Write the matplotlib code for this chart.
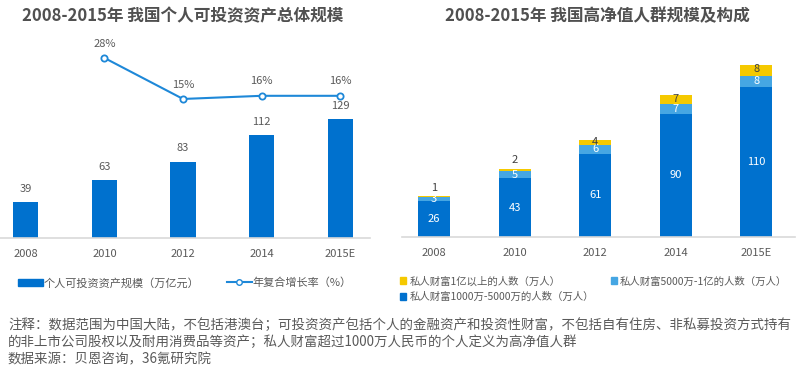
import matplotlib
matplotlib.use("Agg")
import matplotlib.pyplot as plt
from matplotlib.lines import Line2D
from matplotlib.patches import Patch

plt.rcParams['font.family'] = ['Noto Sans CJK SC', 'DejaVu Sans']

# 数据
years = ['2008', '2010', '2012', '2014', '2015E']
assets = [39, 63, 83, 112, 129]          # 个人可投资资产规模（万亿元）
growth = [None, 28, 15, 16, 16]          # 年复合增长率（%）
hnw_low = [26, 43, 61, 90, 110]          # 1000万-5000万
hnw_mid = [3, 5, 6, 7, 8]                # 5000万-1亿
hnw_top = [1, 2, 4, 7, 8]                # 1亿以上

BLUE = '#0071CE'
LBLUE = '#45A6E3'
YELLOW = '#F5C900'
LINE = '#1E88D8'
GRAY = '#595959'

W, H = 800, 377
fig = plt.figure(figsize=(W / 100, H / 100), dpi=100)


def px_axes(x0, y_top, x1, y_bot):
    return fig.add_axes([x0 / W, 1 - y_bot / H, (x1 - x0) / W, (y_bot - y_top) / H])


def clean(ax):
    for s in ['top', 'right', 'left']:
        ax.spines[s].set_visible(False)
    ax.spines['bottom'].set_color('#D9D9D9')
    ax.spines['bottom'].set_linewidth(1.2)
    ax.set_yticks([])
    ax.tick_params(axis='x', length=0, colors=GRAY, labelsize=8, pad=8)


# 左图
ax1 = px_axes(0, 40, 370, 238)
x = list(range(len(years)))
ax1.bar(x, assets, width=0.32, color=BLUE)
ax1.set_xlim(-0.33, 4.38)
ax1.set_ylim(0, 215)
ax1.set_xticks(x)
ax1.set_xticklabels(years)
clean(ax1)
for xi, v in zip(x, assets):
    ax1.text(xi, v + 9, str(v), ha='center', va='bottom', fontsize=8, color=GRAY)

ax1b = ax1.twinx()
gx = [xi for xi, g in zip(x, growth) if g is not None]
gy = [g for g in growth if g is not None]
ax1b.plot(gx, gy, color=LINE, lw=1.5, marker='o', ms=4.5, mfc='white', mec=LINE, mew=1.3)
ax1b.set_ylim(-29.1, 33.7)
ax1b.axis('off')
for xi, g in zip(gx, gy):
    ax1b.text(xi, g + 3, f'{g}%', ha='center', va='bottom', fontsize=8, color=GRAY)

fig.text(183 / W, 1 - 16 / H, '2008-2015年 我国个人可投资资产总体规模', ha='center', va='center',
         fontsize=12, fontweight='bold', color='#505050')

h1 = [Patch(color=BLUE),
      Line2D([], [], color=LINE, lw=1.5, marker='o', ms=4, mfc='white', mec=LINE)]
fig.legend(h1, ['个人可投资资产规模（万亿元）', '年复合增长率（%）'], loc='center',
           bbox_to_anchor=(185 / W, 1 - 283 / H), ncol=2, frameon=False, fontsize=8,
           labelcolor=GRAY, handlelength=2.2, handletextpad=0.1, columnspacing=2.5)

# 右图
ax2 = px_axes(402, 40, 795, 237)
ax2.bar(x, hnw_low, width=0.4, color=BLUE)
mid_bottom = hnw_low
ax2.bar(x, hnw_mid, width=0.4, bottom=mid_bottom, color=LBLUE)
top_bottom = [a + b for a, b in zip(hnw_low, hnw_mid)]
ax2.bar(x, hnw_top, width=0.4, bottom=top_bottom, color=YELLOW)
ax2.set_xlim(-0.40, 4.48)
ax2.set_ylim(0, 144)
ax2.set_xticks(x)
ax2.set_xticklabels(years)
clean(ax2)
for xi, a, b, c in zip(x, hnw_low, hnw_mid, hnw_top):
    ax2.text(xi, a / 2, str(a), ha='center', va='center', fontsize=8, color='white')
    ax2.text(xi, a + b / 2, str(b), ha='center', va='center', fontsize=8, color='white')
    if c >= 4:
        ax2.text(xi, a + b + c / 2 + 0.5, str(c), ha='center', va='center', fontsize=8, color='#404040')
    else:
        ax2.text(xi, a + b + c + 2.5, str(c), ha='center', va='bottom', fontsize=8, color='#404040')

fig.text(597 / W, 1 - 16 / H, '2008-2015年 我国高净值人群规模及构成', ha='center', va='center',
         fontsize=12, fontweight='bold', color='#505050')

h2 = [Patch(color=YELLOW), Patch(color=BLUE), Patch(color=LBLUE)]
l2 = ['私人财富1亿以上的人数（万人）', '私人财富1000万-5000万的人数（万人）', '私人财富5000万-1亿的人数（万人）']
fig.legend(h2, l2, loc='upper left', bbox_to_anchor=(395 / W, 1 - 271 / H), ncol=2,
           frameon=False, fontsize=7.5, labelcolor=GRAY, handlelength=0.6, handleheight=0.6,
           handletextpad=0.3, columnspacing=1.6, labelspacing=0.55, borderpad=0)

# 注释
notes = ['注释：数据范围为中国大陆，不包括港澳台；可投资资产包括个人的金融资产和投资性财富，不包括自有住房、非私募投资方式持有',
         '的非上市公司股权以及耐用消费品等资产；私人财富超过1000万人民币的个人定义为高净值人群',
         '数据来源：贝恩咨询，36氪研究院']
for i, t in enumerate(notes):
    fig.text(8 / W, 1 - (325 + 17 * i) / H, t, ha='left', va='center', fontsize=9.7, color=GRAY)

fig.savefig('out.png', dpi=100, facecolor='white')
